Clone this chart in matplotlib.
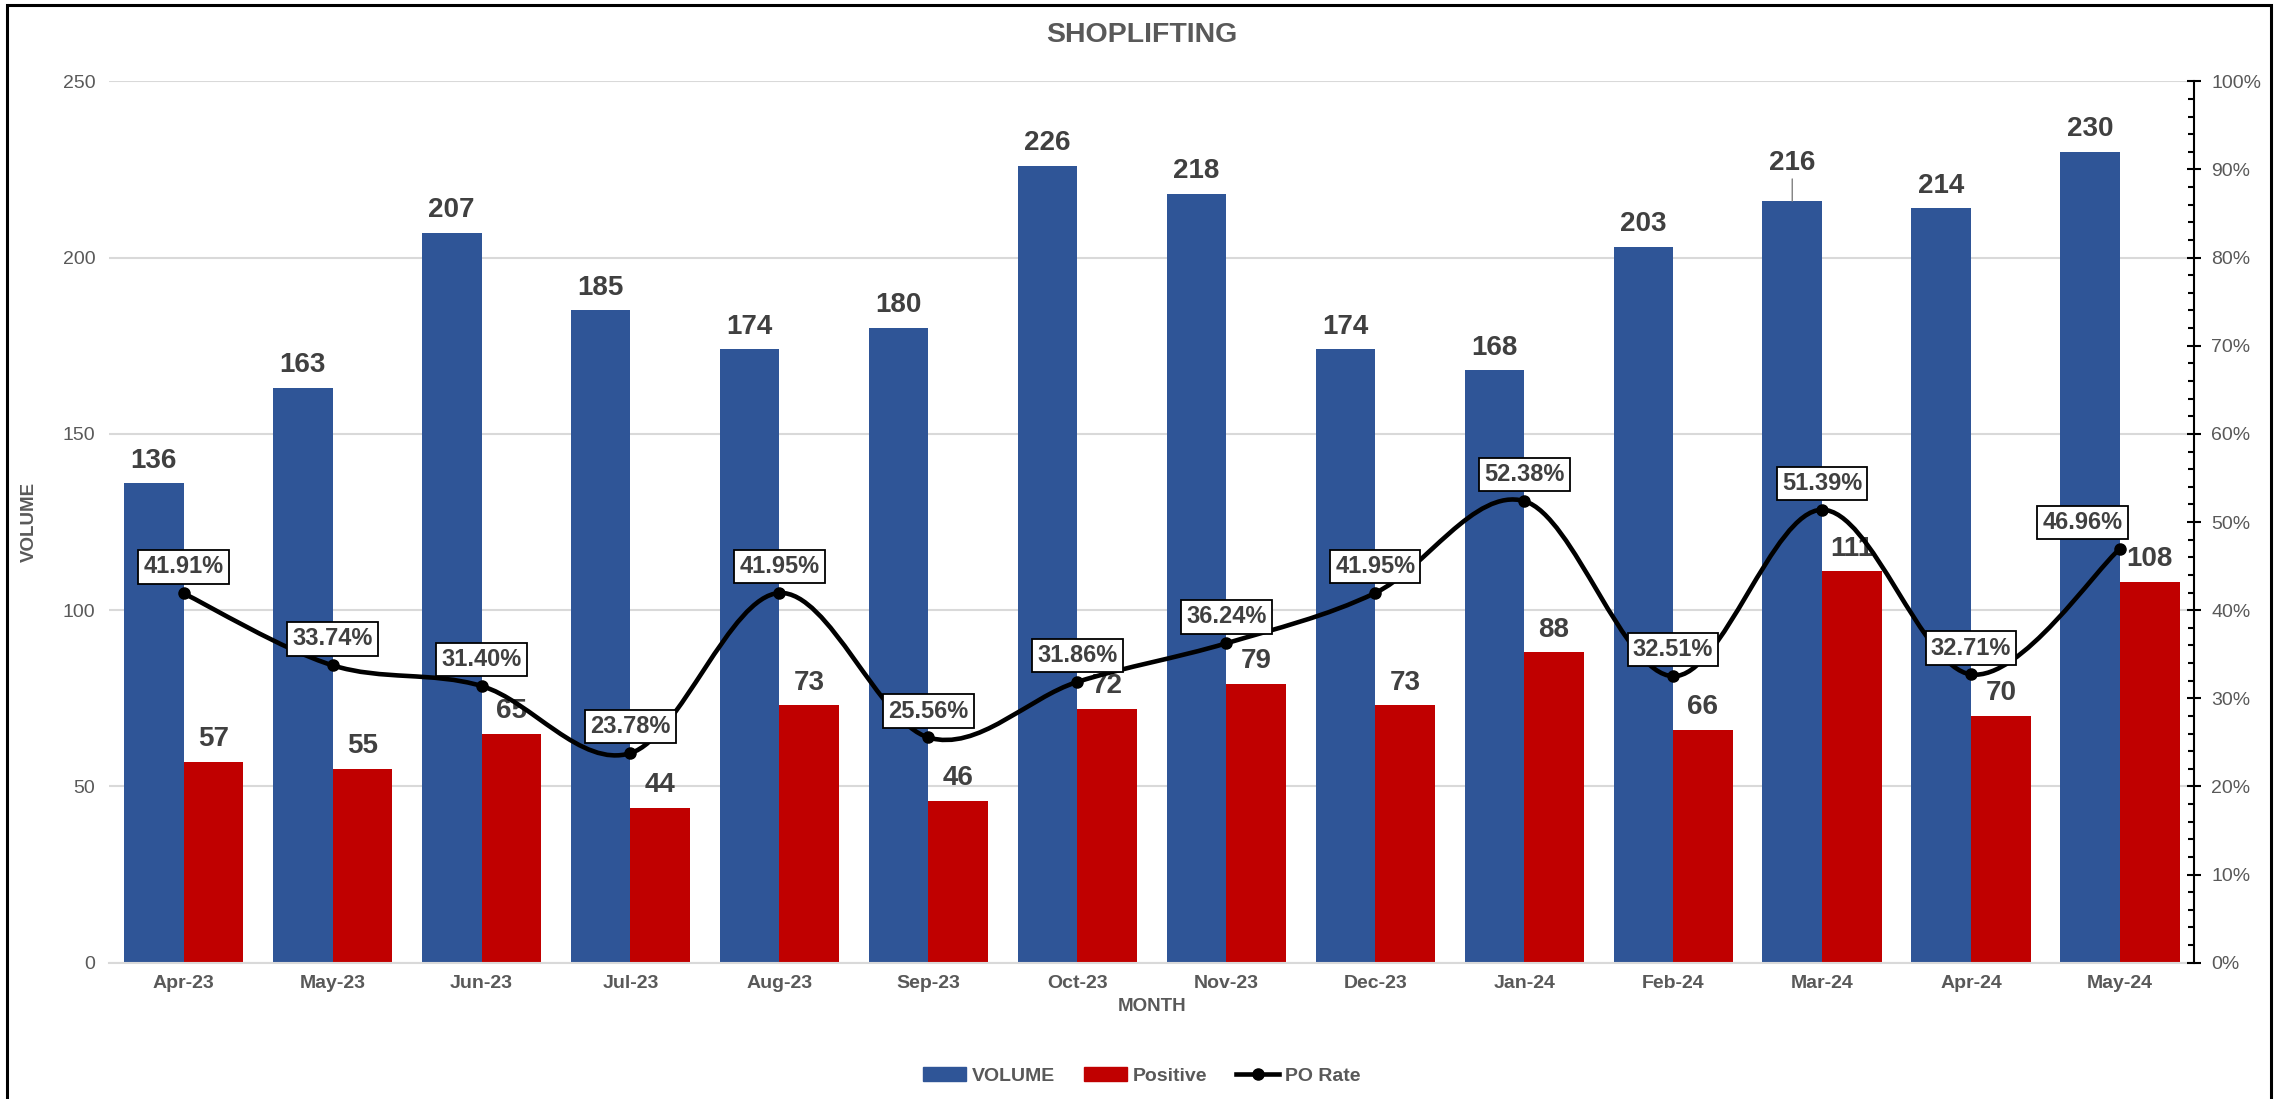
import numpy as np
import matplotlib
matplotlib.use("Agg")
import matplotlib.pyplot as plt
from matplotlib.path import Path
from matplotlib.patches import PathPatch, Rectangle, Patch
from matplotlib.lines import Line2D
from matplotlib.ticker import MultipleLocator, FuncFormatter

months = ["Apr-23", "May-23", "Jun-23", "Jul-23", "Aug-23", "Sep-23", "Oct-23",
          "Nov-23", "Dec-23", "Jan-24", "Feb-24", "Mar-24", "Apr-24", "May-24"]
volume = [136, 163, 207, 185, 174, 180, 226, 218, 174, 168, 203, 216, 214, 230]
positive = [57, 55, 65, 44, 73, 46, 72, 79, 73, 88, 66, 111, 70, 108]
po_rate = [41.91, 33.74, 31.40, 23.78, 41.95, 25.56, 31.86, 36.24, 41.95,
           52.38, 32.51, 51.39, 32.71, 46.96]

GREY = "#595959"
DARK = "#404040"
BLUE = "#2F5597"
RED = "#C00000"
GRID = "#D9D9D9"

plt.rcParams["font.family"] = ["Liberation Sans", "DejaVu Sans"]

fig = plt.figure(figsize=(22.74, 10.99), dpi=100)
ax = fig.add_axes([0.048, 0.124, 0.917, 0.802])

x = np.arange(len(months))
w = 0.4
ax.bar(x - w / 2, volume, w, color=BLUE, zorder=2)
ax.bar(x + w / 2, positive, w, color=RED, zorder=2)

# bar value labels (Mar-24 volume label was nudged up with a leader line)
for i, v in enumerate(volume):
    if i == 11:
        ax.annotate(str(v), (i - w / 2, v), xytext=(0, 18), textcoords="offset points",
                    ha="center", va="bottom", fontsize=20, fontweight="bold", color=DARK,
                    arrowprops=dict(arrowstyle="-", color="#808080", lw=1,
                                    shrinkA=0, shrinkB=0), zorder=3)
    else:
        ax.annotate(str(v), (i - w / 2, v), xytext=(0, 7), textcoords="offset points",
                    ha="center", va="bottom", fontsize=20, fontweight="bold", color=DARK,
                    zorder=3)
for i, v in enumerate(positive):
    ax.annotate(str(v), (i + w / 2, v), xytext=(0, 7), textcoords="offset points",
                ha="center", va="bottom", fontsize=20, fontweight="bold", color=DARK,
                zorder=3)

ax.set_xlim(-0.5, len(months) - 0.5)
ax.set_ylim(0, 250)
ax.yaxis.set_major_locator(MultipleLocator(50))
ax.grid(axis="y", color=GRID, lw=1.5, zorder=0)
ax.set_axisbelow(True)
ax.set_xticks(x)
ax.set_xticklabels(months, fontweight="bold")
ax.tick_params(axis="x", length=0, pad=9, labelsize=14, labelcolor=GREY)
ax.tick_params(axis="y", length=0, pad=10, labelsize=14, labelcolor=GREY)
for s in ("top", "left", "right"):
    ax.spines[s].set_visible(False)
ax.spines["bottom"].set_color(GRID)
ax.spines["bottom"].set_linewidth(1.5)
ax.set_ylabel("VOLUME", fontsize=13.5, fontweight="bold", color=GREY, labelpad=18)
ax.set_xlabel("MONTH", fontsize=13.5, fontweight="bold", color=GREY, labelpad=4)

# secondary axis: PO rate, smoothed like Excel (Catmull-Rom as cubic Bezier)
ax2 = ax.twinx()
ax2.set_ylim(0, 1)
ax2.set_xlim(ax.get_xlim())
rate = np.array(po_rate) / 100.0
pts = np.column_stack([x, rate])
verts = [pts[0]]
codes = [Path.MOVETO]
n = len(pts)
for i in range(n - 1):
    p0 = pts[max(i - 1, 0)]
    p1 = pts[i]
    p2 = pts[i + 1]
    p3 = pts[min(i + 2, n - 1)]
    verts += [p1 + (p2 - p0) / 6.0, p2 - (p3 - p1) / 6.0, p2]
    codes += [Path.CURVE4] * 3
ax2.add_patch(PathPatch(Path(verts, codes), fill=False, edgecolor="black",
                        lw=3.3, capstyle="round", joinstyle="round", zorder=3))
ax2.plot(x, rate, ls="none", marker="o", ms=8, color="black", zorder=4)

for i, r in enumerate(po_rate):
    dx = -27 if i == len(po_rate) - 1 else 0
    ax2.annotate(f"{r:.2f}%", (i, r / 100.0), xytext=(dx, 19), textcoords="offset points",
                 ha="center", va="center", fontsize=17, fontweight="bold", color=DARK,
                 bbox=dict(boxstyle="square,pad=0.22", fc="white", ec="black", lw=1.3),
                 zorder=5)

ax2.yaxis.set_major_locator(MultipleLocator(0.1))
ax2.yaxis.set_minor_locator(MultipleLocator(0.02))
ax2.yaxis.set_major_formatter(FuncFormatter(lambda v, p: f"{v * 100:.0f}%"))
ax2.tick_params(axis="y", which="major", direction="inout", length=10, width=1.5,
                pad=7, labelsize=14, labelcolor=GREY)
ax2.tick_params(axis="y", which="minor", direction="in", length=4, width=1.5)
for s in ("top", "left", "bottom"):
    ax2.spines[s].set_visible(False)
ax2.spines["right"].set_linewidth(1.5)

fig.suptitle("SHOPLIFTING", x=0.502, y=0.98, fontsize=20.5, fontweight="bold", color=GREY)

handles = [Patch(color=BLUE), Patch(color=RED),
           Line2D([], [], color="black", lw=3.3, marker="o", ms=8)]
fig.legend(handles, ["VOLUME", "Positive", "PO Rate"], loc="lower center",
           bbox_to_anchor=(0.502, -0.003), ncol=3, frameon=False,
           prop={"size": 14, "weight": "bold"}, labelcolor=GREY,
           handlelength=2.2, handletextpad=0.3, columnspacing=1.5)

# outer chart frame
fig.add_artist(Rectangle((0.0032, -0.05), 0.9955, 1.0455, transform=fig.transFigure,
                         fill=False, ec="black", lw=2.2))

fig.savefig("out.png", dpi=100)
